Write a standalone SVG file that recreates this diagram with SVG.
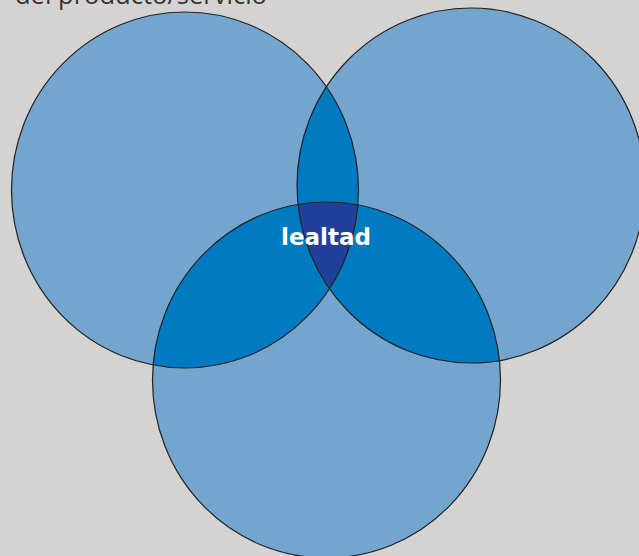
<svg xmlns="http://www.w3.org/2000/svg" width="639" height="556" viewBox="0 0 639 556">
  <style>
    .circ { fill: #74A5CF; stroke: none; }
    .pair { fill: #007BC1; }
    .triple { fill: #21409A; }
    .outline { fill: none; stroke: #222222; stroke-width: 1.2; }
    .title { font-family: "Open Sans", "Noto Sans", sans-serif; font-size: 25px; fill: #333333; }
    .label { font-family: "DejaVu Sans", sans-serif; font-weight: bold; font-size: 23px; fill: #ffffff; }
  </style>
  <defs>
    <clipPath id="clipA"><ellipse cx="185" cy="190" rx="173.5" ry="178"/></clipPath>
    <clipPath id="clipB"><ellipse cx="471" cy="185.5" rx="174" ry="177.5"/></clipPath>
    <clipPath id="clipC"><ellipse cx="326.5" cy="380" rx="174" ry="178"/></clipPath>
  </defs>
  <rect width="639" height="556" fill="#D4D3D2"/>
  <text class="title" x="15" y="3.5" textLength="252" lengthAdjust="spacingAndGlyphs">del producto/servicio</text>

  <g id="circle-a"><ellipse class="circ" cx="185" cy="190" rx="173.5" ry="178"/></g>
  <g id="circle-b"><ellipse class="circ" cx="471" cy="185.5" rx="174" ry="177.5"/></g>
  <g id="circle-c"><ellipse class="circ" cx="326.5" cy="380" rx="174" ry="178"/></g>

  <g id="overlap-ab" clip-path="url(#clipA)"><ellipse class="pair" cx="471" cy="185.5" rx="174" ry="177.5"/></g>
  <g id="overlap-ac" clip-path="url(#clipA)"><ellipse class="pair" cx="326.5" cy="380" rx="174" ry="178"/></g>
  <g id="overlap-bc" clip-path="url(#clipB)"><ellipse class="pair" cx="326.5" cy="380" rx="174" ry="178"/></g>
  <g id="overlap-abc" clip-path="url(#clipA)"><g clip-path="url(#clipB)"><ellipse class="triple" cx="326.5" cy="380" rx="174" ry="178"/></g></g>

  <g id="outlines">
    <ellipse class="outline" cx="185" cy="190" rx="173.5" ry="178"/>
    <ellipse class="outline" cx="471" cy="185.5" rx="174" ry="177.5"/>
    <ellipse class="outline" cx="326.5" cy="380" rx="174" ry="178"/>
  </g>

  <g id="label-lealtad"><text class="label" x="326" y="245" text-anchor="middle">lealtad</text></g>
</svg>
